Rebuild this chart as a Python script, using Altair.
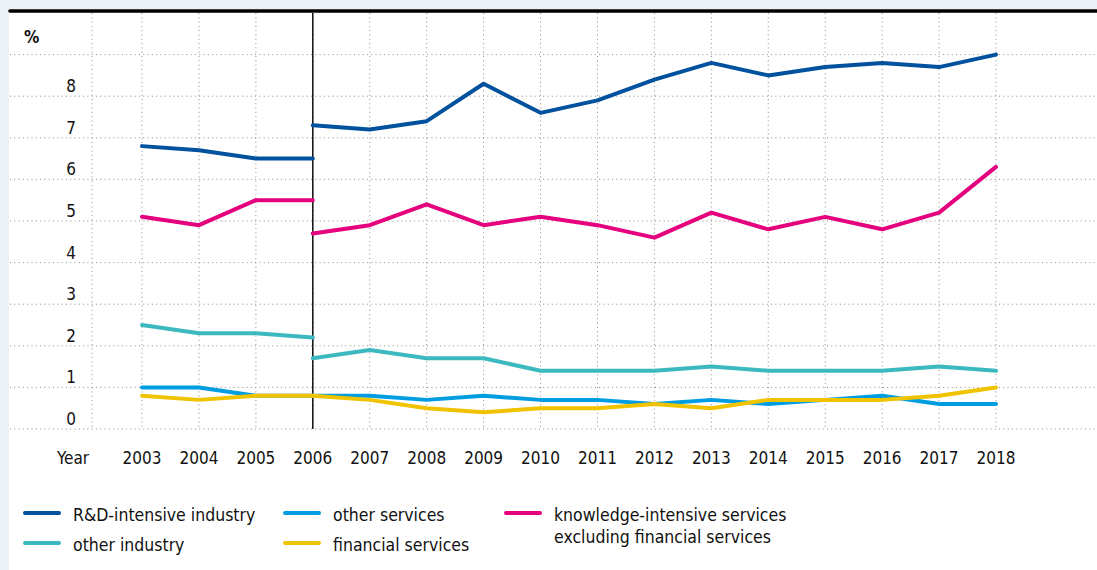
import altair as alt
import pandas as pd

# ---------------- data ----------------
years = list(range(2003, 2019))
years_old = [2003, 2004, 2005, 2006]
years_new = list(range(2006, 2019))

series_names = [
    "R&D-intensive industry",
    "other services",
    "knowledge-intensive services\nexcluding financial services",
    "other industry",
    "financial services",
]
series_colors = ["#00519E", "#009EE0", "#E5007D", "#3BB9BF", "#F0C300"]

rd_old = [6.8, 6.7, 6.5, 6.5]
rd_new = [7.3, 7.2, 7.4, 8.3, 7.6, 7.9, 8.4, 8.8, 8.5, 8.7, 8.8, 8.7, 9.0]

kis_old = [5.1, 4.9, 5.5, 5.5]
kis_new = [4.7, 4.9, 5.4, 4.9, 5.1, 4.9, 4.6, 5.2, 4.8, 5.1, 4.8, 5.2, 6.3]

oi_old = [2.5, 2.3, 2.3, 2.2]
oi_new = [1.7, 1.9, 1.7, 1.7, 1.4, 1.4, 1.4, 1.5, 1.4, 1.4, 1.4, 1.5, 1.4]

os_old = [1.0, 1.0, 0.8, 0.8]
os_new = [0.8, 0.8, 0.7, 0.8, 0.7, 0.7, 0.6, 0.7, 0.6, 0.7, 0.8, 0.6, 0.6]

fs_old = [0.8, 0.7, 0.8, 0.8]
fs_new = [0.8, 0.7, 0.5, 0.4, 0.5, 0.5, 0.6, 0.5, 0.7, 0.7, 0.7, 0.8, 1.0]

y_ticks = [0, 1, 2, 3, 4, 5, 6, 7, 8]
y_grid = [0, 1, 2, 3, 4, 5, 6, 7, 8, 9]
break_year = [2006]

# ---------------- build table ----------------
rows = []
for name, old, new in [
    (series_names[0], rd_old, rd_new),
    (series_names[2], kis_old, kis_new),
    (series_names[3], oi_old, oi_new),
    (series_names[1], os_old, os_new),
    (series_names[4], fs_old, fs_new),
]:
    for y, v in zip(years_old, old):
        rows.append({"series": name, "seg": name + "_a", "year": y, "value": v})
    for y, v in zip(years_new, new):
        rows.append({"series": name, "seg": name + "_b", "year": y, "value": v})
df = pd.DataFrame(rows)

W, H = 1087, 416
FONT = "DejaVu Sans Condensed"
FS = 17
TXT = "#111111"

# legend layout (3 columns, 2 rows, filled row by row)
LEG_COL_X = [15, 275, 496]
LEG_ROW_Y = [500, 530]
LEG_SYM_LEN = 34
LEG_GAP = 14
leg_rows = []
for i, (name, col) in enumerate(zip(series_names, series_colors)):
    c, r = i % 3, i // 3
    leg_rows.append({
        "series": name,
        "sx": LEG_COL_X[c],
        "sx2": LEG_COL_X[c] + LEG_SYM_LEN,
        "tx": LEG_COL_X[c] + LEG_SYM_LEN + LEG_GAP,
        "ly": LEG_ROW_Y[r],
    })
leg_df = pd.DataFrame(leg_rows)

xs = alt.Scale(domain=[2000.681, 2019.774], nice=False, zero=False)
ys = alt.Scale(domain=[0, 10], nice=False)
cs = alt.Scale(domain=series_names, range=series_colors)

bg = alt.Chart(pd.DataFrame({"a": [0]})).mark_rect(color="white").encode(
    x=alt.value(-1), x2=alt.value(W), y=alt.value(-4), y2=alt.value(557)
)

grid_style = dict(color="#8a8a8a", strokeDash=[1, 3.3], strokeWidth=1)

hgrid = alt.Chart(pd.DataFrame({"v": y_grid})).mark_rule(**grid_style).encode(
    y=alt.Y("v:Q", scale=ys, axis=None), x=alt.value(0), x2=alt.value(W)
)

vgrid = alt.Chart(pd.DataFrame({"yr": years})).mark_rule(**grid_style).encode(
    x=alt.X("yr:Q", scale=xs, axis=None), y=alt.value(0), y2=alt.value(H)
)

vgrid_extra = alt.Chart(pd.DataFrame({"a": [0]})).mark_rule(**grid_style).encode(
    x=alt.value(82), y=alt.value(0), y2=alt.value(H)
)

brk = alt.Chart(pd.DataFrame({"yr": break_year})).mark_rule(
    color="black", strokeWidth=1.4
).encode(x=alt.X("yr:Q", scale=xs, axis=None), y=alt.value(0), y2=alt.value(H))

topline = alt.Chart(pd.DataFrame({"a": [0]})).mark_rule(
    color="black", strokeWidth=3.6, strokeCap="round"
).encode(x=alt.value(0), x2=alt.value(W), y=alt.value(-2))

lines = alt.Chart(df).mark_line(strokeWidth=4, strokeCap="round", strokeJoin="round").encode(
    x=alt.X("year:Q", scale=xs, axis=None),
    y=alt.Y("value:Q", scale=ys, axis=None),
    detail="seg:N",
    color=alt.Color("series:N", scale=cs, legend=None),
)

leg_sym = alt.Chart(leg_df).mark_rule(strokeWidth=4, strokeCap="round").encode(
    x=alt.X("sx:Q", scale=None),
    x2="sx2:Q",
    y=alt.Y("ly:Q", scale=None),
    color=alt.Color("series:N", scale=cs, legend=None),
)

leg_txt = alt.Chart(leg_df).mark_text(
    align="left", baseline="alphabetic", dy=8, font=FONT, fontSize=17.5, color=TXT,
    lineBreak="\n", lineHeight=22,
).encode(
    x=alt.X("tx:Q", scale=None),
    y=alt.Y("ly:Q", scale=None),
    text="series:N",
)

ylab = alt.Chart(pd.DataFrame({"v": y_ticks})).mark_text(
    align="right", baseline="alphabetic", dy=-4, font=FONT, fontSize=FS, color=TXT
).encode(y=alt.Y("v:Q", scale=ys, axis=None), x=alt.value(66), text="v:Q")

xlab = alt.Chart(pd.DataFrame({"yr": years})).mark_text(
    align="center", baseline="alphabetic", font=FONT, fontSize=FS, color=TXT
).encode(x=alt.X("yr:Q", scale=xs, axis=None), y=alt.value(H + 35), text="yr:N")

year_title = alt.Chart(pd.DataFrame({"t": ["Year"]})).mark_text(
    align="left", baseline="alphabetic", font=FONT, fontSize=FS, color=TXT
).encode(x=alt.value(47), y=alt.value(H + 35), text="t:N")

pct = alt.Chart(pd.DataFrame({"t": ["%"]})).mark_text(
    align="left", baseline="alphabetic", font=FONT, fontSize=FS, fontWeight="bold", color=TXT
).encode(x=alt.value(14), y=alt.value(30), text="t:N")

chart = alt.layer(
    bg, hgrid, vgrid, vgrid_extra, brk, topline, lines,
    leg_sym, leg_txt, ylab, xlab, year_title, pct
).properties(
    width=W,
    height=H,
    autosize=alt.AutoSizeParams(type="none"),
    padding={"left": 10, "top": 13, "right": 0, "bottom": 570 - 13 - H},
    background="#ECF1F5",
).configure_view(stroke=None)

chart.save("out.html", embed_options={"renderer": "svg", "actions": False})
